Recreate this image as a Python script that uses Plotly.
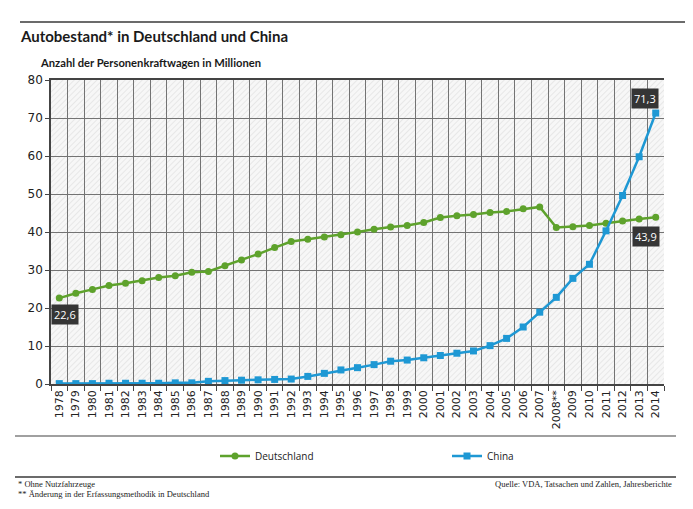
import base64
import plotly.graph_objects as go

# ---------------- data ----------------
years = ["1978", "1979", "1980", "1981", "1982", "1983", "1984", "1985", "1986", "1987",
         "1988", "1989", "1990", "1991", "1992", "1993", "1994", "1995", "1996", "1997",
         "1998", "1999", "2000", "2001", "2002", "2003", "2004", "2005", "2006", "2007",
         "2008**", "2009", "2010", "2011", "2012", "2013", "2014"]
deutschland = [22.6, 23.9, 24.9, 25.9, 26.5, 27.2, 28.0, 28.5, 29.4, 29.6,
               31.1, 32.6, 34.2, 35.9, 37.5, 38.1, 38.7, 39.3, 40.0, 40.7,
               41.3, 41.7, 42.5, 43.8, 44.3, 44.6, 45.1, 45.4, 46.1, 46.6,
               41.2, 41.4, 41.7, 42.3, 42.9, 43.4, 43.9]
china = [0.1, 0.1, 0.1, 0.2, 0.2, 0.2, 0.2, 0.3, 0.3, 0.7,
         0.9, 1.0, 1.1, 1.2, 1.3, 2.0, 2.8, 3.7, 4.3, 5.1,
         6.0, 6.3, 6.9, 7.5, 8.1, 8.7, 10.1, 12.0, 15.0, 18.9,
         22.8, 27.8, 31.5, 40.3, 49.6, 59.8, 71.3]
y_ticks = [0, 10, 20, 30, 40, 50, 60, 70, 80]

GREEN = "#5ea22c"
BLUE = "#1e98d4"

# ---------------- geometry (page pixels; the figure div starts 8px into the page) ----------------
OFF = 8
W, H = 693 - OFF, 509 - OFF
L, R, T, B = 51 - OFF, 29, 80 - OFF, 125
PW, PH = W - L - R, H - T - B


def px(x):
    return (x - OFF - L) / PW


def py(y):
    return (H - B - (y - OFF)) / PH


fig = go.Figure()

fig.add_trace(go.Scatter(
    x=years, y=deutschland, name="Deutschland", mode="lines+markers",
    line=dict(color=GREEN, width=2.5),
    marker=dict(symbol="circle", size=7, color=GREEN),
))
fig.add_trace(go.Scatter(
    x=years, y=china, name="China", mode="lines+markers",
    line=dict(color=BLUE, width=2.5),
    marker=dict(symbol="square", size=7, color=BLUE),
))

# hatched background image
svg = f'''<svg xmlns="http://www.w3.org/2000/svg" width="{PW}" height="{PH}">
<defs><pattern id="h" width="4" height="4" patternUnits="userSpaceOnUse" patternTransform="rotate(45)">
<rect width="4" height="4" fill="#f7f7f7"/><line x1="0" y1="0" x2="0" y2="4" stroke="#dcdcdc" stroke-width="1.2"/>
</pattern></defs><rect width="{PW}" height="{PH}" fill="url(#h)"/></svg>'''
src = "data:image/svg+xml;base64," + base64.b64encode(svg.encode()).decode()
fig.add_layout_image(dict(source=src, xref="paper", yref="paper", x=0, y=1,
                          sizex=1, sizey=1, sizing="stretch", layer="below",
                          xanchor="left", yanchor="top"))


def fmt(v):
    return f"{v:.1f}".replace(".", ",")


last = len(years) - 1
label_font = dict(family="Open Sans, DejaVu Sans", size=11, color="white")
anns = [
    dict(x=0, y=deutschland[0], text=fmt(deutschland[0]), xshift=6, yshift=-16),
    dict(x=last, y=china[last], text=fmt(china[last]), xshift=-11, yshift=15),
    dict(x=last, y=deutschland[last], text=fmt(deutschland[last]), xshift=-10, yshift=-19),
]
for a in anns:
    fig.add_annotation(xref="x", yref="y", showarrow=False, bgcolor="#353535",
                       font=label_font, borderpad=2, **a)

# titles
fig.add_annotation(xref="paper", yref="paper", x=px(18), y=py(36), xanchor="left", yanchor="middle",
                   text="<b>Autobestand* in Deutschland und China</b>", showarrow=False,
                   font=dict(family="Lato", size=15, color="#1a1a1a"))
fig.add_annotation(xref="paper", yref="paper", x=px(38), y=py(63), xanchor="left", yanchor="middle",
                   text="<b>Anzahl der Personenkraftwagen in Millionen</b>", showarrow=False,
                   font=dict(family="Lato", size=11.2, color="#1a1a1a"))

# footnotes
foot = dict(family="Liberation Serif, DejaVu Serif", size=8.5, color="#222")
fig.add_annotation(xref="paper", yref="paper", x=px(16), y=py(484), xanchor="left", yanchor="middle",
                   text="* Ohne Nutzfahrzeuge", showarrow=False, font=foot)
fig.add_annotation(xref="paper", yref="paper", x=px(16), y=py(494), xanchor="left", yanchor="middle",
                   text="** Änderung in der Erfassungsmethodik in Deutschland", showarrow=False, font=foot)
fig.add_annotation(xref="paper", yref="paper", x=px(674), y=py(484), xanchor="right", yanchor="middle",
                   text="Quelle: VDA, Tatsachen und Zahlen, Jahresberichte", showarrow=False, font=foot)

# rule lines
fig.add_shape(type="line", xref="paper", yref="paper", x0=px(20), x1=px(693), y0=py(22), y1=py(22),
              line=dict(color="#3a3a3a", width=1.5))
fig.add_shape(type="line", xref="paper", yref="paper", x0=px(15), x1=px(676), y0=py(436), y1=py(436),
              line=dict(color="#a0a0a0", width=2))
fig.add_shape(type="line", xref="paper", yref="paper", x0=px(15), x1=px(676), y0=py(477), y1=py(477),
              line=dict(color="#3a3a3a", width=1.5))

fig.update_layout(
    width=W, height=H,
    margin=dict(l=L, r=R, t=T, b=B, autoexpand=False),
    paper_bgcolor="white", plot_bgcolor="rgba(0,0,0,0)",
    showlegend=True,
    legend=dict(orientation="h", x=px(215), y=py(456), xanchor="left", yanchor="middle",
                entrywidth=187, entrywidthmode="pixels",
                font=dict(family="Open Sans", size=10, color="#222"), bgcolor="rgba(0,0,0,0)"),
    font=dict(family="DejaVu Sans", color="#222"),
)
fig.update_xaxes(
    type="category", tickson="boundaries", tickangle=-90,
    showgrid=True, gridcolor="#737373", gridwidth=1,
    showline=True, linecolor="#444", linewidth=1.5, mirror=True,
    ticks="outside", ticklen=5, tickcolor="#444",
    tickfont=dict(family="DejaVu Sans", size=11, color="#222"),
    range=[-0.5, len(years) - 0.5],
)
fig.update_yaxes(
    range=[0, 80], tickvals=y_ticks,
    showgrid=True, gridcolor="#737373", gridwidth=1,
    showline=True, linecolor="#444", linewidth=1.5,
    ticks="outside", ticklen=4, tickcolor="#444",
    tickfont=dict(family="DejaVu Sans", size=12, color="#222"),
    zeroline=False,
)

fig.write_html("out.html")
